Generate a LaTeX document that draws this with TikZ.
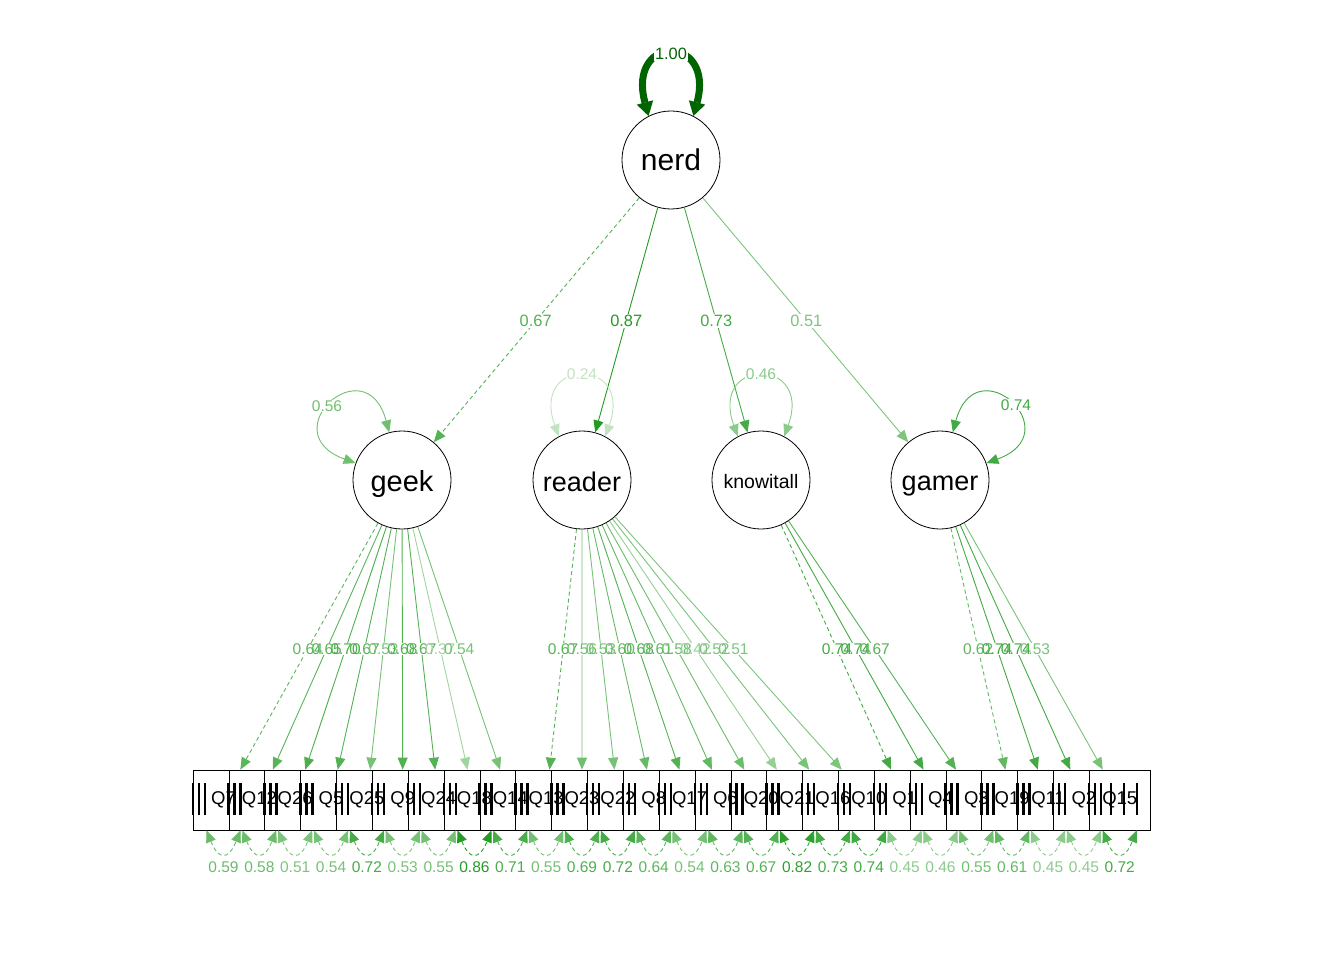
\documentclass[tikz,border=0pt]{standalone}
\usepackage{fontspec}
\setmainfont{Liberation Sans}
\usetikzlibrary{calc,arrows.meta}
\definecolor{base}{RGB}{0,140,0}
\definecolor{dkg}{RGB}{0,100,0}
\begin{document}
\begin{tikzpicture}[x=1pt,y=1pt,
  lat/.style={circle,draw,line width=0.8pt,minimum size=98pt,inner sep=0pt},
  lattext/.style={inner sep=0pt},
  box/.style={rectangle,draw,fill=white,line width=0.7pt,minimum width=60.75pt,minimum height=60pt,inner sep=0pt},
  qtext/.style={inner sep=0pt,font=\fontsize{18.5}{20}\selectfont},
  arr/.style={-{Triangle[length=12pt,width=10pt]},line width=0.9pt},
  darr/.style={{Triangle[length=12pt,width=10pt]}-{Triangle[length=12pt,width=10pt]},line width=0.9pt},
  dsh/.style={dash pattern=on 4pt off 3pt},
  sol/.style={},
  lab/.style={font=\fontsize{15.5}{16}\selectfont,inner sep=0.8pt},
  labn/.style={font=\fontsize{16.4}{17}\selectfont,inner sep=0.8pt},
  bgl/.style={fill=white,text=white},
  fgl/.style={},
]
\useasboundingbox (0,0) rectangle (1344,-960);

% latent nodes
\node[lat] (nerd) at (671,-160) {};
\node[lat] (geek) at (402,-480) {};
\node[lat] (reader) at (582,-480) {};
\node[lat] (knowitall) at (761,-480) {};
\node[lat] (gamer) at (940,-480) {};
\node[lattext,font=\fontsize{30}{30}\selectfont] (tnerd) at (nerd) {nerd};
\node[lattext,font=\fontsize{29}{29}\selectfont] (tgeek) at ($(geek)+(0,-4)$) {geek};
\node[lattext,font=\fontsize{27}{27}\selectfont] (treader) at ($(reader)+(0,-2)$) {reader};
\node[lattext,font=\fontsize{19.5}{20}\selectfont] (tknow) at ($(knowitall)+(0,-2)$) {knowitall};
\node[lattext,font=\fontsize{27}{27}\selectfont] (tgamer) at ($(gamer)+(0,-6)$) {gamer};

% manifest boxes (frames first, texts on top)
\foreach \i/\q in {1/Q7,2/Q12,3/Q26,4/Q5,5/Q25,6/Q9,7/Q24,8/Q18,9/Q14,10/Q13,11/Q23,12/Q22,13/Q8,14/Q17,15/Q6,16/Q20,17/Q21,18/Q16,19/Q10,20/Q1,21/Q4,22/Q3,23/Q19,24/Q11,25/Q2,26/Q15}
  {\node[box] (\q) at ({223.5+35.85*(\i-1)},-800) {};}
\foreach \q in {Q7,Q12,Q26,Q5,Q25,Q9,Q24,Q18,Q14,Q13,Q23,Q22,Q8,Q17,Q6,Q20,Q21,Q16,Q10,Q1,Q4,Q3,Q19,Q11,Q2,Q15}
  {\node[qtext] (t\q) at (\q) {\q};}

% bars over the boxes
\foreach \i in {1,...,26}{
  \pgfmathsetmacro\L{193.3+35.85*(\i-1)}
  \foreach \o in {-0.5,5.5,11.5}
    {\fill ({\L+\o-1.2},-783) rectangle ({\L+\o+1.2},-815);}
}
\foreach \x in {1111,1124,1137}
  {\fill ({\x-1.2},-783) rectangle ({\x+1.2},-815);}

% nerd self loop
\draw[line width=7pt,dkg,{Triangle[length=14pt,width=17pt,line width=0pt]}-{Triangle[length=14pt,width=17pt,line width=0pt]}] (nerd.117) .. controls +(105:85) and +(75:85) .. (nerd.63);

% nerd loadings
\draw[arr,dsh,color=base!67!white] (nerd) -- (geek);
\draw[arr,color=base!87!white] (nerd) -- (reader);
\draw[arr,color=base!73!white] (nerd) -- (knowitall);
\draw[arr,color=base!51!white] (nerd) -- (gamer);

% latent residual loops
\draw[darr,color=base!56!white] (geek.160) .. controls +(160:90) and +(105:90) .. (geek.105);
\draw[darr,color=base!24!white] (reader.118) .. controls +(110:85) and +(70:85) .. (reader.62);
\draw[darr,color=base!46!white] (knowitall.118) .. controls +(110:85) and +(70:85) .. (knowitall.62);
\draw[darr,color=base!74!white] (gamer.75) .. controls +(75:90) and +(20:90) .. (gamer.20);

% loadings to items and residuals
\foreach \q/\lat/\ld/\rs/\ds in {Q7/geek/64/59/dsh,Q12/geek/65/58/sol,Q26/geek/70/51/sol,Q5/geek/67/54/sol,Q25/geek/53/72/sol,Q9/geek/68/53/sol,Q24/geek/67/55/sol,Q18/geek/37/86/sol,Q14/geek/54/71/sol,Q13/reader/67/55/dsh,Q23/reader/56/69/sol,Q22/reader/53/72/sol,Q8/reader/60/64/sol,Q17/reader/68/54/sol,Q6/reader/61/63/sol,Q20/reader/58/67/sol,Q21/reader/42/82/sol,Q16/reader/52/73/sol,Q10/reader/51/74/sol,Q1/knowitall/74/45/dsh,Q4/knowitall/74/46/sol,Q3/knowitall/67/55/sol,Q19/gamer/62/61/dsh,Q11/gamer/74/45/sol,Q2/gamer/74/45/sol,Q15/gamer/53/72/sol}
{
  \draw[arr,\ds,color=base!\ld!white] (\lat) -- (\q);
  \draw[darr,dsh,color=base!\rs!white] ($(\q.south)+(-17,0)$) .. controls +(12,-30) and +(-12,-30) .. ($(\q.south)+(17,0)$);
}

% labels: first white backgrounds, then texts
\foreach \pass in {bgl,fgl}{
  \node[labn,text=dkg,\pass] (l100) at (671,-54) {1.00};
  \node[labn,text=base!67!white,\pass] (lng) at ($(nerd)!0.503!(geek)$) {0.67};
  \node[labn,text=base!87!white,\pass] (lnr) at ($(nerd)!0.503!(reader)$) {0.87};
  \node[labn,text=base!73!white,\pass] (lnk) at ($(nerd)!0.503!(knowitall)$) {0.73};
  \node[labn,text=base!51!white,\pass] (lnga) at ($(nerd)!0.503!(gamer)$) {0.51};
  \node[lab,text=base!56!white,\pass] (lrg) at ($(geek)+(-75,74)$) {0.56};
  \node[lab,text=base!24!white,\pass] (lrr) at ($(reader)+(0,106)$) {0.24};
  \node[lab,text=base!46!white,\pass] (lrk) at ($(knowitall)+(0,106)$) {0.46};
  \node[lab,text=base!74!white,\pass] (lrga) at ($(gamer)+(76,75)$) {0.74};
  \foreach \q/\lat/\ld/\rs in {Q7/geek/64/59,Q12/geek/65/58,Q26/geek/70/51,Q5/geek/67/54,Q25/geek/53/72,Q9/geek/68/53,Q24/geek/67/55,Q18/geek/37/86,Q14/geek/54/71,Q13/reader/67/55,Q23/reader/56/69,Q22/reader/53/72,Q8/reader/60/64,Q17/reader/68/54,Q6/reader/61/63,Q20/reader/58/67,Q21/reader/42/82,Q16/reader/52/73,Q10/reader/51/74,Q1/knowitall/74/45,Q4/knowitall/74/46,Q3/knowitall/67/55,Q19/gamer/62/61,Q11/gamer/74/45,Q2/gamer/74/45,Q15/gamer/53/72}
  {
    \node[lab,text=base!\ld!white,\pass] (ll\q) at ($(\lat)!0.528!(\q)$) {0.\ld};
    \node[lab,text=base!\rs!white,\pass] (lr\q) at ($(\q)+(0,-67)$) {0.\rs};
  }
}
\end{tikzpicture}
\end{document}
